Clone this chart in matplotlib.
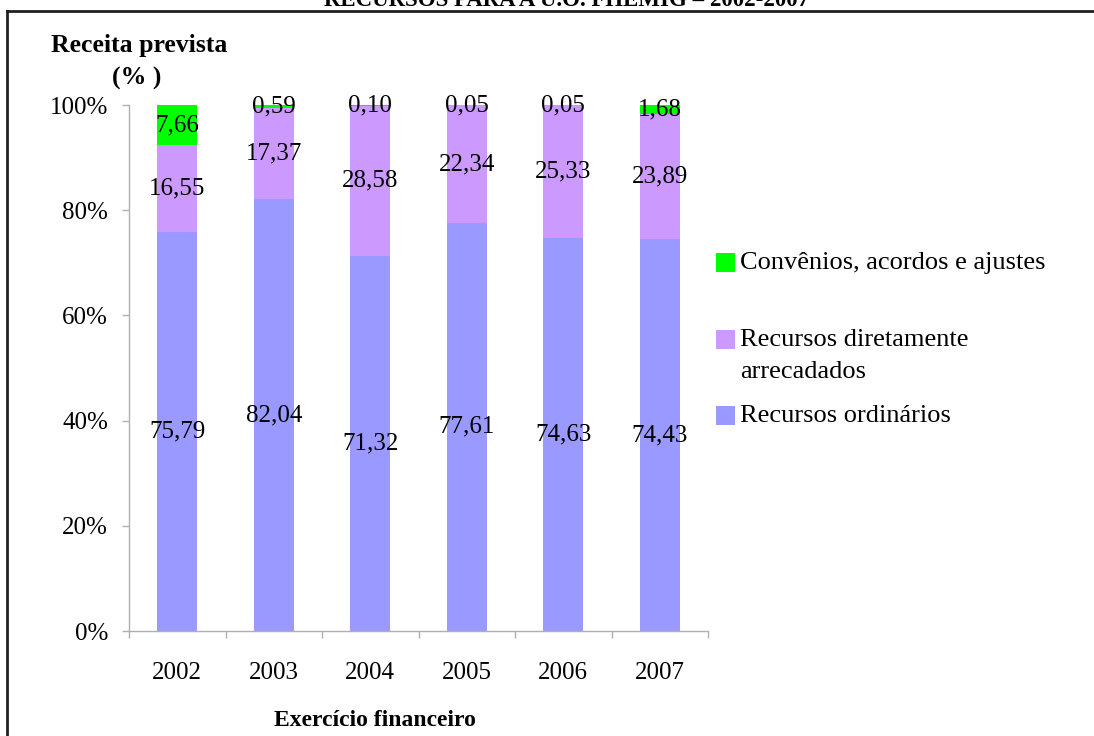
import matplotlib
matplotlib.use("Agg")
import matplotlib.pyplot as plt
from matplotlib.lines import Line2D
from matplotlib.patches import Rectangle
from matplotlib.ticker import FuncFormatter, FixedLocator

plt.rcParams['font.family'] = ['Liberation Serif', 'DejaVu Serif']

# Data: share of planned revenue (%) by source, per fiscal year
years = ['2002', '2003', '2004', '2005', '2006', '2007']
ordinarios = [75.79, 82.04, 71.32, 77.61, 74.63, 74.43]
diretamente = [16.55, 17.37, 28.58, 22.34, 25.33, 23.89]
convenios = [7.66, 0.59, 0.10, 0.05, 0.05, 1.68]

series_names = ['Recursos ordinários',
                'Recursos diretamente\narrecadados',
                'Convênios, acordos e ajustes']
colors = ['#9999FF', '#CC99FF', '#00FF00']

W, H = 1094, 736
fig = plt.figure(figsize=(W / 100, H / 100), dpi=100)
fig.patch.set_facecolor('white')

ax = fig.add_axes([129 / W, 1 - 631 / H, (708 - 129) / W, (631 - 105) / H])

x = list(range(len(years)))
bar_w = 0.415
bottoms = [0.0] * len(years)
for vals, col in zip([ordinarios, diretamente, convenios], colors):
    ax.bar(x, vals, bar_w, bottom=bottoms, color=col, edgecolor='none', zorder=2)
    for i, v in enumerate(vals):
        ax.text(i, bottoms[i] + v / 2, f'{v:.2f}'.replace('.', ','),
                ha='center', va='center', fontsize=18, color='black', zorder=3)
    bottoms = [b + v for b, v in zip(bottoms, vals)]

ax.set_xlim(-0.5, len(years) - 0.5)
ax.set_ylim(0, 100)

# axes styling
for s in ['top', 'right']:
    ax.spines[s].set_visible(False)
for s in ['left', 'bottom']:
    ax.spines[s].set_color('#B0B0B0')
    ax.spines[s].set_linewidth(1.0)

ax.yaxis.set_major_locator(FixedLocator([0, 20, 40, 60, 80, 100]))
ax.yaxis.set_major_formatter(FuncFormatter(lambda v, p: f'{int(v)}%'))
ax.tick_params(axis='y', length=5, width=1.0, color='#B0B0B0', pad=10,
               labelsize=18)

ax.set_xticks(x)
ax.set_xticklabels(years)
ax.set_xticks([i - 0.5 for i in range(len(years) + 1)], minor=True)
ax.tick_params(axis='x', which='major', length=0, pad=22, labelsize=18)
ax.tick_params(axis='x', which='minor', length=5, width=1.0, color='#B0B0B0')

# axis titles
fig.text(139 / W, 1 - 52 / H, 'Receita prevista', ha='center', va='baseline',
         fontsize=18.5, fontweight='bold')
fig.text(137 / W, 1 - 85 / H, '(% )', ha='center', va='baseline',
         fontsize=18.5, fontweight='bold')
fig.text(375 / W, 1 - 726 / H, 'Exercício financeiro', ha='center',
         va='baseline', fontsize=17, fontweight='bold')

# chart title (top of the frame)
fig.text(567 / W, 1 - 6 / H, 'RECURSOS PARA A U.O. FHEMIG – 2002-2007',
         ha='center', va='baseline', fontsize=16.5, fontweight='bold')

# legend, listed top to bottom
legend_rows = [
    (series_names[2], colors[2], 253, 269),
    (series_names[1], colors[1], 330, 346),
    (series_names[0], colors[0], 406, 422),
]
for label, col, box_top, base in legend_rows:
    fig.add_artist(Rectangle((716 / W, 1 - (box_top + 19) / H), 19 / W, 19 / H,
                             transform=fig.transFigure, facecolor=col,
                             edgecolor='none'))
    lines = label.split('\n')
    for k, line in enumerate(lines):
        fig.text(740 / W, 1 - (base + 32 * k) / H, line, ha='left',
                 va='baseline', fontsize=19)

# frame lines
fig.add_artist(Line2D([7 / W, 1.0], [1 - 11 / H, 1 - 11 / H],
                      transform=fig.transFigure, color='#202020', linewidth=2))
fig.add_artist(Line2D([7 / W, 7 / W], [1 - 11 / H, 0.0],
                      transform=fig.transFigure, color='#202020', linewidth=2))

fig.savefig('out.png', dpi=100, facecolor='white')
